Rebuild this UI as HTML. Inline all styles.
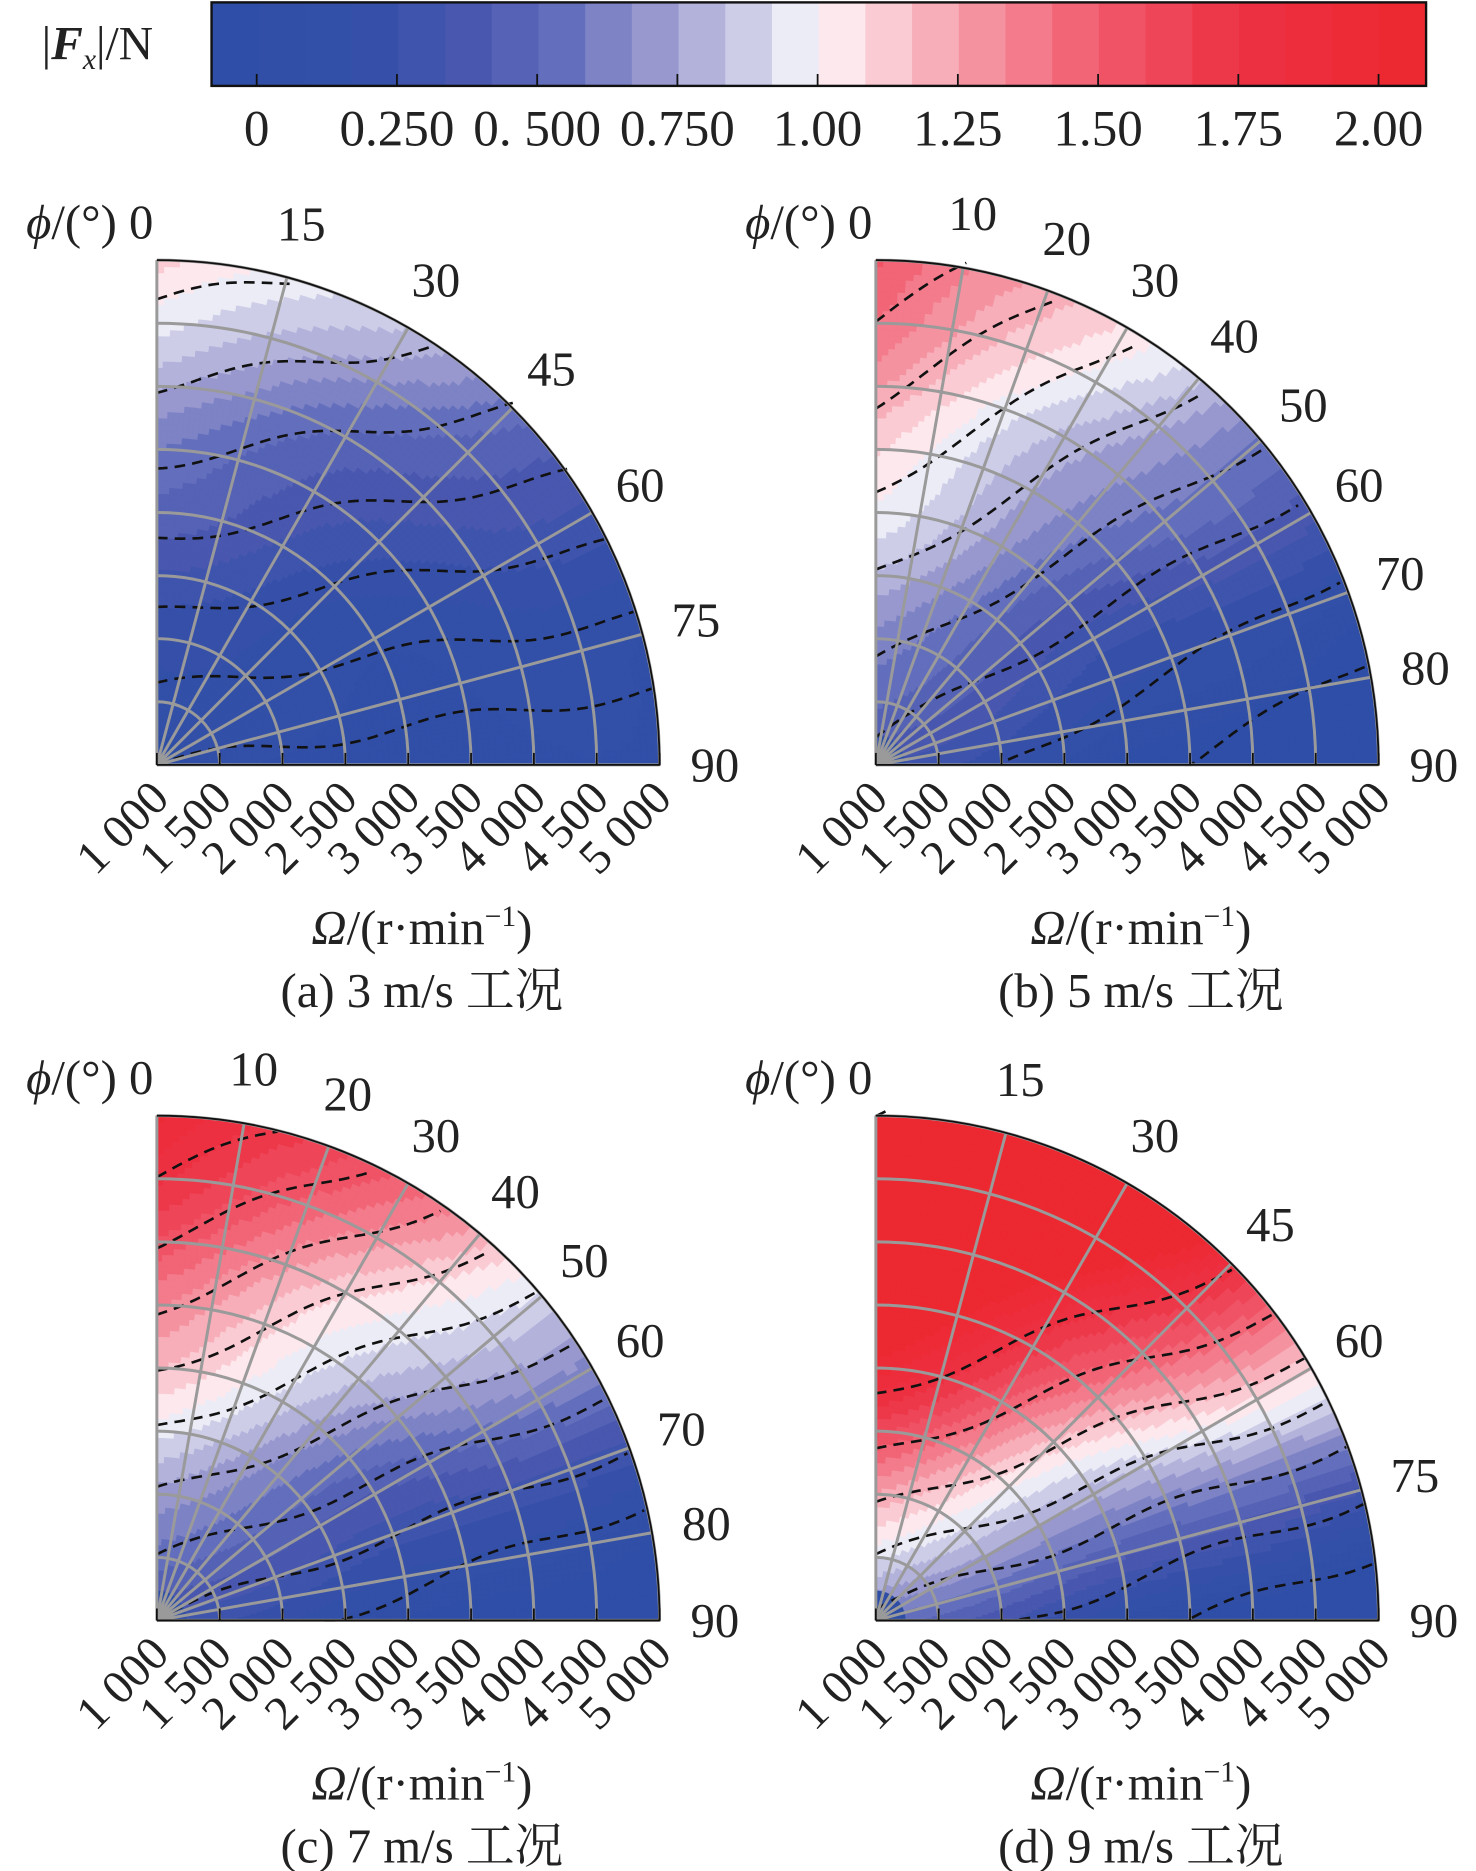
<!DOCTYPE html>
<html><head><meta charset="utf-8"><style>
html,body{margin:0;padding:0;background:#fff}
svg{display:block}
text{font-family:"Liberation Serif","Noto Serif CJK SC",serif;fill:#222}
</style></head><body>
<svg id="s" width="1476" height="1871" viewBox="0 0 1242 1568" preserveAspectRatio="none" xmlns="http://www.w3.org/2000/svg">
<g id="cb"></g>
<text x="35" y="50" font-size="40">|<tspan font-weight="bold" font-style="italic">F</tspan><tspan font-style="italic" font-size="25" dy="8">x</tspan><tspan dy="-8">|/N</tspan></text>
<g id="panels"></g>
</svg>
<script>
const NS="http://www.w3.org/2000/svg";
function el(t,a,p,txt){const e=document.createElementNS(NS,t);for(const k in a)e.setAttribute(k,a[k]);if(txt!==undefined)e.textContent=txt;(p||document.getElementById('s')).appendChild(e);return e;}
const stops=[[-0.1,"#2e4ea6"],[0.2,"#3550a9"],[0.4,"#4b58b0"],[0.55,"#6470bd"],[0.7,"#9595cd"],[0.85,"#c3c3e3"],[0.96,"#ececf6"],[1.04,"#fdeaee"],[1.15,"#f9c3cc"],[1.3,"#f5909e"],[1.5,"#f05a6c"],[1.75,"#ed3244"],[2.2,"#ec2227"]];
function hx(c){return [1,3,5].map(i=>parseInt(c.substr(i,2),16));}
function ramp(v){if(v<=stops[0][0])return stops[0][1];for(let i=1;i<stops.length;i++){if(v<=stops[i][0]){const a=stops[i-1],b=stops[i];const t=(v-a[0])/(b[0]-a[0]);const A=hx(a[1]),B=hx(b[1]);return "rgb("+A.map((x,j)=>Math.round(x+(B[j]-x)*t)).join(",")+")";}}return stops[stops.length-1][1];}
const bw=0.0833,v0=-0.08;
function bandColor(v){let i=Math.floor((v-v0)/bw);i=Math.max(0,Math.min(25,i));return ramp(v0+(i+0.5)*bw);}
const cb=document.getElementById('cb');
for(let i=0;i<26;i++){const x=178+i*39.3;el('rect',{x:x,y:2,width:39.8,height:70,fill:ramp(v0+(i+0.5)*bw)},cb);}
el('rect',{x:178,y:2,width:1022,height:70,fill:'none',stroke:'#111','stroke-width':2},cb);
const labs=["0","0.250","0. 500","0.750","1.00","1.25","1.50","1.75","2.00"];
labs.forEach((l,i)=>{const x=216+i*118;el('line',{x1:x,y1:72,x2:x,y2:62,stroke:'#111','stroke-width':1.5},cb);el('text',{x:x,y:122,'font-size':43,'text-anchor':'middle'},cb,l);});
const R=423;
const panels=[
 {cx:132,cy:641,step:15,k:1.0,c:0.95,s:0.15,g:1.7,lines:[0.92,0.75,0.6,0.45,0.3,0.15,0.0],cap:"(a) 3 m/s 工况"},
 {cx:737,cy:641,step:10,k:1.2,c:0.55,s:0.57,g:1,lines:[0.88,0.72,0.55,0.38,0.2,0.05,-0.15,-0.35],cap:"(b) 5 m/s 工况"},
 {cx:132,cy:1358,step:10,k:1.64,c:0.42,s:0.36,g:1,lines:[0.88,0.75,0.62,0.5,0.38,0.25,0.12,0,-0.12],cap:"(c) 7 m/s 工况"},
 {cx:737,cy:1358,step:15,k:2.7,c:0.16,s:0.35,g:1,lines:[0.99,0.45,0.33,0.22,0.12,0.02,-0.1,-0.22],cap:"(d) 9 m/s 工况"}];
const P=document.getElementById('panels');
panels.forEach(p=>{
 const g=el('g',{},P);
 const pt=(rho,ph)=>[p.cx+R*rho*Math.sin(ph),p.cy-R*rho*Math.cos(ph)];
 const NR=80,NP=100;
 for(let i=0;i<NR;i++)for(let j=0;j<NP;j++){
  const r0=i/NR,r1=(i+1)/NR,a0=j/NP*Math.PI/2,a1=(j+1)/NP*Math.PI/2;
  const rm=(r0+r1)/2,am=(a0+a1)/2;const x=rm*Math.sin(am),y=rm*Math.cos(am);
  const w=0.03*Math.sin(9*x+3*y)+0.02*Math.sin(17*y);
  let v;
  if(p.g!==1){const u=Math.max(0,(y-p.s*x+0.08)/(p.c+0.08));v=0.05+1.0*Math.pow(u,p.g)+w;}
  else v=1+p.k*(y-p.c-p.s*x)+w;
  const col=bandColor(v);
  const q=[pt(r0,a0),pt(r1,a0),pt(r1,a1),pt(r0,a1)];
  el('polygon',{points:q.map(a=>a.map(n=>n.toFixed(2)).join(',')).join(' '),fill:col,stroke:col,'stroke-width':0.8},g);
 }
 el('path',{d:`M${p.cx},${p.cy} L${p.cx},${p.cy-25} A25,25 0 0 1 ${p.cx+25},${p.cy} Z`,fill:'#2e4ea6'},g);
 p.lines.forEach(b=>{
  const s=p.s;const pts=[];
  let xs=b<0?-b/s:0;
  for(let t=0;t<=100;t++){const x=xs+t*0.012;const y=b+s*x;if(x*x+y*y>1.0)break;
   const yy=y+0.015*Math.sin(13*x+b*7);pts.push([p.cx+R*x,p.cy-R*Math.max(0,yy)]);}
  if(pts.length>1)el('polyline',{points:pts.map(a=>a.map(n=>n.toFixed(1)).join(',')).join(' '),fill:'none',stroke:'#111','stroke-width':2.2,'stroke-dasharray':'9,6'},g);
 });
 for(let k=1;k<=8;k++){const r=R*k/8;el('path',{d:`M${p.cx},${p.cy-r} A${r},${r} 0 0 1 ${p.cx+r},${p.cy}`,fill:'none',stroke:'#9a9a9a','stroke-width':2.5},g);}
 for(let a=0;a<=90;a+=p.step){const ph=a*Math.PI/180;const e=pt(1,ph);el('line',{x1:p.cx,y1:p.cy,x2:e[0],y2:e[1],stroke:'#9a9a9a','stroke-width':2.5},g);
  const L=pt(1.11,ph);
  if(a===0){el('text',{x:p.cx-110,y:p.cy-R-18,'font-size':41},g).innerHTML='<tspan font-style="italic">ϕ</tspan>/(°) 0';}
  else el('text',{x:L[0],y:L[1]+14,'font-size':41,'text-anchor':'middle'},g,String(a));}
 el('path',{d:`M${p.cx},${p.cy-R} A${R},${R} 0 0 1 ${p.cx+R},${p.cy} L${p.cx},${p.cy}`,fill:'none',stroke:'#111','stroke-width':1.5},g);
 for(let k=0;k<=8;k++){const x=p.cx+R*k/8;el('line',{x1:x,y1:p.cy,x2:x,y2:p.cy-10,stroke:'#111','stroke-width':1.5},g);
  const lab=(1000+500*k);const ls=Math.floor(lab/1000)+" "+String(lab%1000).padStart(3,'0');
  el('text',{x:0,y:0,'font-size':40,'text-anchor':'end',transform:`translate(${x+12},${p.cy+30}) rotate(-45)`},g,ls);}
 el('text',{x:p.cx+223,y:p.cy+150,'font-size':41,'text-anchor':'middle'},g).innerHTML='<tspan font-style="italic">Ω</tspan>/(r·min<tspan font-size="25" dy="-15">−1</tspan><tspan dy="15">)</tspan>';
 el('text',{x:p.cx+223,y:p.cy+203,'font-size':41,'text-anchor':'middle'},g,p.cap);
});
</script>
</body></html>
